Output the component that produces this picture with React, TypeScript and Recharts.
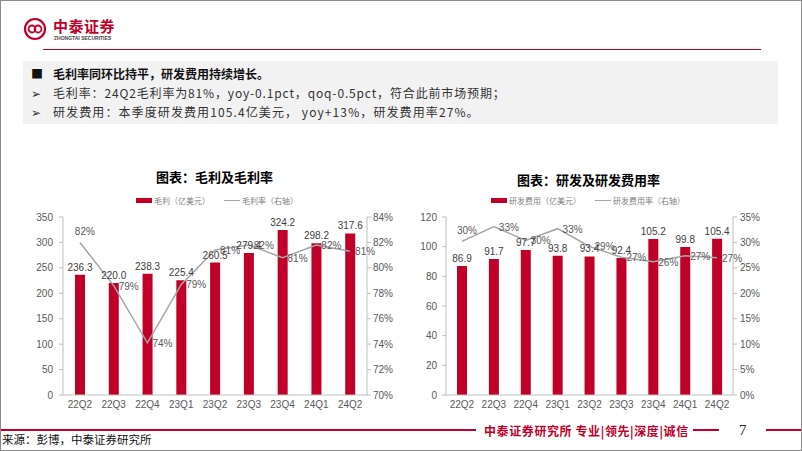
import React from "react";
import {
  ComposedChart,
  Bar,
  Line,
  XAxis,
  YAxis,
  LabelList,
} from "recharts";

const QUARTERS = ["22Q2", "22Q3", "22Q4", "23Q1", "23Q2", "23Q3", "23Q4", "24Q1", "24Q2"];
const GROSS_PROFIT = [236.3, 220.0, 238.3, 225.4, 260.5, 279.4, 324.2, 298.2, 317.6];
const GROSS_MARGIN = [82.0, 78.6, 74.1, 78.7, 81.4, 81.8, 80.8, 81.8, 81.3];
const RD_EXPENSE = [86.9, 91.7, 97.7, 93.8, 93.4, 92.4, 105.2, 99.8, 105.4];
const RD_RATE = [30.2, 33.1, 30.4, 32.7, 29.2, 27.1, 26.2, 27.4, 27.0];

const GP_TICKS = [0, 50, 100, 150, 200, 250, 300, 350];
const GM_TICKS = [70, 72, 74, 76, 78, 80, 82, 84];
const RD_TICKS = [0, 20, 40, 60, 80, 100, 120];
const RDR_TICKS = [0, 5, 10, 15, 20, 25, 30, 35];

const RED = "#C00028";
const GRAY_LINE = "#A6A6A6";
const AXIS = "#BFBFBF";
const TICK_TEXT = "#595959";
const CJK = '"Noto Sans CJK SC", "Noto Sans", sans-serif';
const LATIN = '"Liberation Sans", Arial, sans-serif';

const grossData = QUARTERS.map((q, i) => ({ q, gp: GROSS_PROFIT[i], gm: GROSS_MARGIN[i] }));
const rdData = QUARTERS.map((q, i) => ({ q, rd: RD_EXPENSE[i], rate: RD_RATE[i] }));

const tickStyle = { fontSize: 10, fill: TICK_TEXT, fontFamily: LATIN };

// first point's label sits above the line, the rest to the right
const pctLabel = (props: any) => {
  const { x, y, value, index } = props;
  const first = index === 0;
  return (
    <text
      x={first ? x + 5 : x + 5}
      y={first ? y - 7 : y + 4}
      textAnchor={first ? "middle" : "start"}
      fontSize={10}
      fill={TICK_TEXT}
      fontFamily={LATIN}
    >
      {Math.round(value)}%
    </text>
  );
};

const Legend2 = ({ left, barText, lineText }: { left: number; barText: string; lineText: string }) => (
  <div
    style={{
      position: "absolute",
      left,
      top: 194,
      display: "flex",
      alignItems: "center",
      fontSize: 8,
      color: "#7F7F7F",
      fontFamily: CJK,
      whiteSpace: "nowrap",
    }}
  >
    <span style={{ display: "inline-block", width: 16, height: 5, background: RED, marginRight: 2 }} />
    <span>{barText}</span>
    <span style={{ display: "inline-block", width: 16, height: 1, background: GRAY_LINE, margin: "0 2px 0 14px" }} />
    <span>{lineText}</span>
  </div>
);

const GrossChart = () => (
  <div style={{ position: "absolute", left: 0, top: 190 }}>
    <ComposedChart width={400} height={230} data={grossData} margin={{ top: 26, right: 0, bottom: 6, left: 22 }}>
      <XAxis dataKey="q" tick={tickStyle} tickLine={false} tickSize={0} tickMargin={6} height={20} axisLine={{ stroke: AXIS }} />
      <YAxis
        yAxisId="l"
        domain={[0, 350]}
        ticks={GP_TICKS}
        width={40}
        tick={tickStyle}
        tickSize={4}
        tickMargin={6}
        axisLine={{ stroke: AXIS }}
        tickLine={{ stroke: AXIS }}
      />
      <YAxis
        yAxisId="r"
        orientation="right"
        domain={[70, 84]}
        ticks={GM_TICKS}
        width={34}
        tick={tickStyle}
        tickSize={4}
        tickMargin={2}
        tickFormatter={(v: number) => `${v}%`}
        axisLine={{ stroke: AXIS }}
        tickLine={{ stroke: AXIS }}
      />
      <Bar yAxisId="l" dataKey="gp" fill={RED} barSize={10} isAnimationActive={false}>
        <LabelList
          dataKey="gp"
          position="top"
          offset={4}
          style={{ fontSize: 10, fill: "#404040", fontFamily: LATIN }}
          formatter={(v: any) => Number(v).toFixed(1)}
        />
      </Bar>
      <Line yAxisId="r" dataKey="gm" stroke={GRAY_LINE} strokeWidth={1.5} dot={false} type="linear" isAnimationActive={false}>
        <LabelList dataKey="gm" content={pctLabel} />
      </Line>
    </ComposedChart>
  </div>
);

const RdChart = () => (
  <div style={{ position: "absolute", left: 400, top: 190 }}>
    <ComposedChart width={402} height={230} data={rdData} margin={{ top: 26, right: 40, bottom: 6, left: 15 }}>
      <XAxis dataKey="q" tick={tickStyle} tickLine={false} tickSize={0} tickMargin={6} height={20} axisLine={{ stroke: AXIS }} />
      <YAxis
        yAxisId="l"
        domain={[0, 120]}
        ticks={RD_TICKS}
        width={30}
        tick={tickStyle}
        tickSize={4}
        tickMargin={5}
        axisLine={{ stroke: AXIS }}
        tickLine={{ stroke: AXIS }}
      />
      <YAxis
        yAxisId="r"
        orientation="right"
        domain={[0, 35]}
        ticks={RDR_TICKS}
        width={30}
        tick={tickStyle}
        tickSize={4}
        tickMargin={3}
        tickFormatter={(v: number) => `${v}%`}
        axisLine={{ stroke: AXIS }}
        tickLine={{ stroke: AXIS }}
      />
      <Bar yAxisId="l" dataKey="rd" fill={RED} barSize={10} isAnimationActive={false}>
        <LabelList
          dataKey="rd"
          position="top"
          offset={4}
          style={{ fontSize: 10, fill: "#404040", fontFamily: LATIN }}
          formatter={(v: any) => Number(v).toFixed(1)}
        />
      </Bar>
      <Line yAxisId="r" dataKey="rate" stroke={GRAY_LINE} strokeWidth={1.5} dot={false} type="linear" isAnimationActive={false}>
        <LabelList dataKey="rate" content={pctLabel} />
      </Line>
    </ComposedChart>
  </div>
);

export default function App() {
  return (
    <div
      style={{
        position: "absolute",
        left: 0,
        top: 0,
        width: 802,
        height: 451,
        boxSizing: "border-box",
        border: "1px solid #8C8C8C",
        background: "#fff",
        overflow: "hidden",
        fontFamily: CJK,
      }}
    >
      {/* logo */}
      <svg style={{ position: "absolute", left: 22, top: 16 }} width={24} height={24}>
        <circle cx={12} cy={12} r={10} fill="none" stroke={RED} strokeWidth={2.2} />
        <circle cx={9} cy={12} r={3.5} fill="none" stroke={RED} strokeWidth={1.8} />
        <circle cx={15} cy={12} r={3.5} fill="none" stroke={RED} strokeWidth={1.8} />
      </svg>
      <div style={{ position: "absolute", left: 52, top: 16, fontSize: 15, lineHeight: "18px", fontWeight: 700, color: RED, letterSpacing: 0.5 }}>
        中泰证券
      </div>
      <div style={{ position: "absolute", left: 53, top: 34, fontSize: 5, lineHeight: "6px", fontWeight: 700, color: "#444", fontFamily: LATIN }}>
        ZHONGTAI SECURITIES
      </div>
      <div style={{ position: "absolute", left: 42, top: 48, width: 718, height: 1, background: RED }} />

      {/* summary box */}
      <div style={{ position: "absolute", left: 22, top: 60, width: 755, height: 63, background: "#F2F2F2" }} />
      <div style={{ position: "absolute", left: 30, top: 63, fontSize: 12, color: "#111", lineHeight: "19px", whiteSpace: "nowrap" }}>
        <div>
          <span style={{ display: "inline-block", width: 22 }}>■</span>
          <b>毛利率同环比持平，研发费用持续增长。</b>
        </div>
        <div style={{ color: "#333", letterSpacing: 0.85 }}>
          <span style={{ display: "inline-block", width: 22, letterSpacing: 0 }}>➢</span>
          毛利率：24Q2毛利率为81%，yoy-0.1pct，qoq-0.5pct，符合此前市场预期；
        </div>
        <div style={{ color: "#333", letterSpacing: 1.1 }}>
          <span style={{ display: "inline-block", width: 22, letterSpacing: 0 }}>➢</span>
          研发费用：本季度研发费用105.4亿美元， yoy+13%，研发费用率27%。
        </div>
      </div>

      {/* chart titles */}
      <div style={{ position: "absolute", left: 155, top: 166, fontSize: 13, fontWeight: 700, color: "#000" }}>
        图表：毛利及毛利率
      </div>
      <div style={{ position: "absolute", left: 516, top: 169, fontSize: 13, fontWeight: 700, color: "#000" }}>
        图表：研发及研发费用率
      </div>
      <Legend2 left={135} barText="毛利（亿美元）" lineText="毛利率（右轴）" />
      <Legend2 left={490} barText="研发费用（亿美元）" lineText="研发费用率（右轴）" />

      <GrossChart />
      <RdChart />

      {/* footer */}
      <div style={{ position: "absolute", left: 0, top: 428, width: 475, height: 2, background: RED }} />
      <div style={{ position: "absolute", left: 483, top: 421, fontSize: 12, letterSpacing: 0.6, fontWeight: 700, color: RED, whiteSpace: "nowrap" }}>
        中泰证券研究所 专业|领先|深度|诚信
      </div>
      <div style={{ position: "absolute", left: 692, top: 428, width: 26, height: 2, background: RED }} />
      <div style={{ position: "absolute", left: 738, top: 421, fontSize: 15, color: "#222", fontFamily: '"Liberation Serif", serif' }}>
        7
      </div>
      <div style={{ position: "absolute", left: 765, top: 428, width: 37, height: 2, background: RED }} />
      <div style={{ position: "absolute", left: 1, top: 430, fontSize: 11.5, color: "#111" }}>
        来源：彭博，中泰证券研究所
      </div>
    </div>
  );
}
